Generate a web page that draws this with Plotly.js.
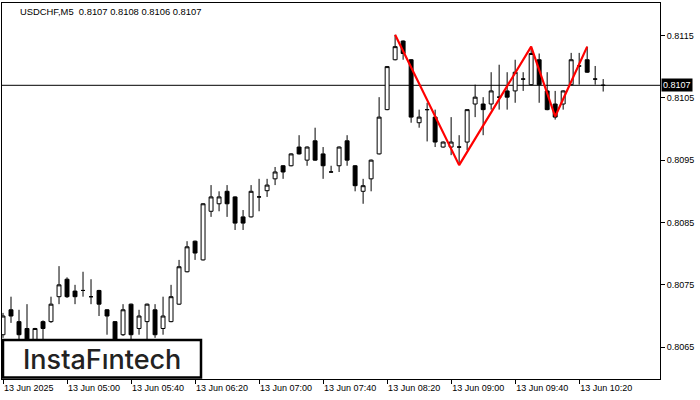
<!DOCTYPE html>
<html>
<head>
<meta charset="utf-8">
<script src="https://cdn.plot.ly/plotly-3.0.1.min.js"></script>
<style>html,body{margin:0;padding:0;background:#fff;}#chart{width:700px;height:400px;}</style>
</head>
<body>
<div id="chart"></div>
<script>
const times = ["04:20","04:25","04:30","04:35","04:40","04:45","04:50","04:55",
"05:00","05:05","05:10","05:15","05:20","05:25","05:30","05:35",
"05:40","05:45","05:50","05:55","06:00","06:05","06:10","06:15",
"06:20","06:25","06:30","06:35","06:40","06:45","06:50","06:55",
"07:00","07:05","07:10","07:15","07:20","07:25","07:30","07:35",
"07:40","07:45","07:50","07:55","08:00","08:05","08:10","08:15",
"08:20","08:25","08:30","08:35","08:40","08:45","08:50","08:55",
"09:00","09:05","09:10","09:15","09:20","09:25","09:30","09:35",
"09:40","09:45","09:50","09:55","10:00","10:05","10:10","10:15",
"10:20","10:25","10:30","10:35"];

const opens = [0.80670,0.80710,0.80691,0.80680,0.80660,0.80691,0.80691,0.80731,
0.80759,0.80740,0.80741,0.80731,0.80741,0.80710,0.80691,0.80670,
0.80719,0.80680,0.80691,0.80710,0.80680,0.80691,0.80719,0.80771,
0.80820,0.80790,0.80868,0.80880,0.80900,0.80891,0.80859,0.80859,
0.80891,0.80901,0.80920,0.80941,0.80941,0.80971,0.80950,0.80981,
0.80960,0.80931,0.80941,0.80981,0.80941,0.80900,0.80920,0.80960,
0.81031,0.81111,0.81141,0.81111,0.81010,0.81031,0.81019,0.80971,
0.80971,0.80971,0.80979,0.81040,0.81040,0.81040,0.81051,0.81061,
0.81061,0.81080,0.81071,0.81111,0.81061,0.81040,0.81040,0.81071,
0.81101,0.81111,0.81080,0.81070];

const highs = [0.80705,0.80731,0.80710,0.80719,0.80681,0.80693,0.80731,0.80780,
0.80762,0.80750,0.80771,0.80759,0.80742,0.80711,0.80692,0.80719,
0.80720,0.80710,0.80720,0.80719,0.80731,0.80750,0.80790,0.80820,
0.80821,0.80881,0.80910,0.80900,0.80910,0.80892,0.80870,0.80910,
0.80920,0.80920,0.80939,0.80942,0.80961,0.80990,0.80972,0.81002,
0.80971,0.80941,0.80972,0.80990,0.80942,0.80920,0.80951,0.81051,
0.81101,0.81151,0.81142,0.81112,0.81031,0.81042,0.81031,0.80980,
0.81019,0.80990,0.81031,0.81071,0.81051,0.81091,0.81103,0.81091,
0.81111,0.81091,0.81132,0.81121,0.81091,0.81061,0.81062,0.81122,
0.81122,0.81132,0.81101,0.81080];

const lows = [0.80665,0.80689,0.80652,0.80645,0.80655,0.80658,0.80689,0.80719,
0.80729,0.80719,0.80731,0.80719,0.80700,0.80670,0.80650,0.80668,
0.80660,0.80670,0.80662,0.80665,0.80670,0.80690,0.80718,0.80770,
0.80790,0.80789,0.80859,0.80868,0.80859,0.80838,0.80838,0.80858,
0.80868,0.80891,0.80910,0.80920,0.80940,0.80959,0.80941,0.80949,
0.80920,0.80930,0.80931,0.80941,0.80900,0.80880,0.80900,0.80959,
0.81030,0.81110,0.81111,0.81010,0.81002,0.80980,0.80971,0.80970,
0.80958,0.80942,0.80966,0.81019,0.80990,0.81031,0.81031,0.81031,
0.81042,0.81061,0.81070,0.81042,0.81030,0.81015,0.81031,0.81070,
0.81071,0.81090,0.81071,0.81060];

const closes = [0.80700,0.80700,0.80670,0.80658,0.80680,0.80680,0.80719,0.80750,
0.80731,0.80731,0.80741,0.80731,0.80719,0.80700,0.80660,0.80710,
0.80670,0.80700,0.80719,0.80670,0.80700,0.80731,0.80779,0.80811,
0.80801,0.80880,0.80891,0.80891,0.80880,0.80849,0.80849,0.80900,
0.80891,0.80910,0.80931,0.80931,0.80960,0.80960,0.80971,0.80950,
0.80941,0.80931,0.80971,0.80950,0.80909,0.80909,0.80950,0.81019,
0.81100,0.81132,0.81121,0.81019,0.81019,0.81031,0.80979,0.80979,
0.80979,0.80971,0.81031,0.81051,0.81031,0.81061,0.81051,0.81051,
0.81091,0.81080,0.81121,0.81071,0.81031,0.81019,0.81061,0.81111,
0.81101,0.81091,0.81080,0.81070];

const patternTimes = ["08:25","09:05","09:50","10:05","10:25"];
const patternPrices = [0.81151,0.80942,0.81132,0.81020,0.81132];

const tickTimes = ["04:20","05:00","05:40","06:20","07:00","07:40","08:20","09:00","09:40","10:20"];
const tickLabels = ["13 Jun 2025","13 Jun 05:00","13 Jun 05:40","13 Jun 06:20","13 Jun 07:00",
"13 Jun 07:40","13 Jun 08:20","13 Jun 09:00","13 Jun 09:40","13 Jun 10:20"];

const priceTicks = [0.8065,0.8075,0.8085,0.8095,0.8105,0.8115];
const priceTickLabels = ["0.8065","0.8075","0.8085","0.8095","0.8105","0.8115"];

const symbolTitle = "USDCHF,M5  0.8107 0.8108 0.8106 0.8107";
const currentPrice = 0.8107;
const currentPriceLabel = "0.8107";
const logoText = "InstaF\u0131ntech";

const font = "Liberation Sans, Arial, sans-serif";

const traces = [
  {
    type: "candlestick",
    x: times, open: opens, high: highs, low: lows, close: closes,
    increasing: {line: {color: "#000", width: 1}, fillcolor: "#fff"},
    decreasing: {line: {color: "#000", width: 1}, fillcolor: "#000"},
    whiskerwidth: 0,
    hoverinfo: "skip",
    showlegend: false
  },
  {
    type: "scatter", mode: "lines",
    x: patternTimes, y: patternPrices,
    line: {color: "#ff0000", width: 2.2},
    hoverinfo: "skip", showlegend: false
  }
];

const layout = {
  width: 700, height: 400,
  margin: {l: 2, r: 40, t: 3, b: 21},
  paper_bgcolor: "#fff", plot_bgcolor: "#fff",
  font: {family: font, size: 9, color: "#000"},
  showlegend: false,
  xaxis: {
    type: "category",
    categoryorder: "array", categoryarray: times,
    range: [-0.125, 82.1],
    rangeslider: {visible: false},
    tickmode: "array", tickvals: tickTimes, ticktext: tickLabels,
    ticks: "outside", ticklen: 4, tickcolor: "#000", tickwidth: 1,
    ticklabelposition: "outside right",
    showgrid: false, zeroline: false,
    showline: true, linecolor: "#000", linewidth: 1, mirror: true,
    tickfont: {family: font, size: 9, color: "#000"},
    fixedrange: true
  },
  yaxis: {
    side: "right",
    range: [0.80599, 0.81202],
    tickmode: "array", tickvals: priceTicks, ticktext: priceTickLabels,
    ticks: "outside", ticklen: 4, tickcolor: "#000", tickwidth: 1,
    showgrid: false, zeroline: false,
    showline: true, linecolor: "#000", linewidth: 1, mirror: true,
    tickfont: {family: font, size: 9, color: "#000"},
    fixedrange: true
  },
  shapes: [
    {type: "line", xref: "paper", x0: 0, x1: 1, yref: "y", y0: currentPrice, y1: currentPrice,
     line: {color: "#000", width: 1}, layer: "below"},
    {type: "rect", xref: "paper", yref: "paper",
     x0: 1/658, x1: 199/658, y0: 1.5/376, y1: 39/376,
     fillcolor: "#fff", line: {color: "#000", width: 2.5}, layer: "above"}
  ],
  annotations: [
    {xref: "paper", yref: "paper", x: 16/658, y: 1 - 8/376, xanchor: "left", yanchor: "middle",
     text: symbolTitle, showarrow: false, font: {family: font, size: 9.4, color: "#000"}},
    {xref: "paper", yref: "y", x: 1, y: currentPrice, xanchor: "left", yanchor: "middle", xshift: 1,
     text: currentPriceLabel, showarrow: false, bgcolor: "#000", borderpad: 1,
     font: {family: font, size: 9, color: "#fff"}},
    {xref: "paper", yref: "paper", x: 100/658, y: 20/376, xanchor: "center", yanchor: "middle",
     text: logoText, showarrow: false, font: {family: "Inter, Lato, sans-serif", size: 27, color: "#222", weight: 500}}
  ]
};

Plotly.newPlot("chart", traces, layout, {staticPlot: true, displayModeBar: false});
</script>
</body>
</html>
